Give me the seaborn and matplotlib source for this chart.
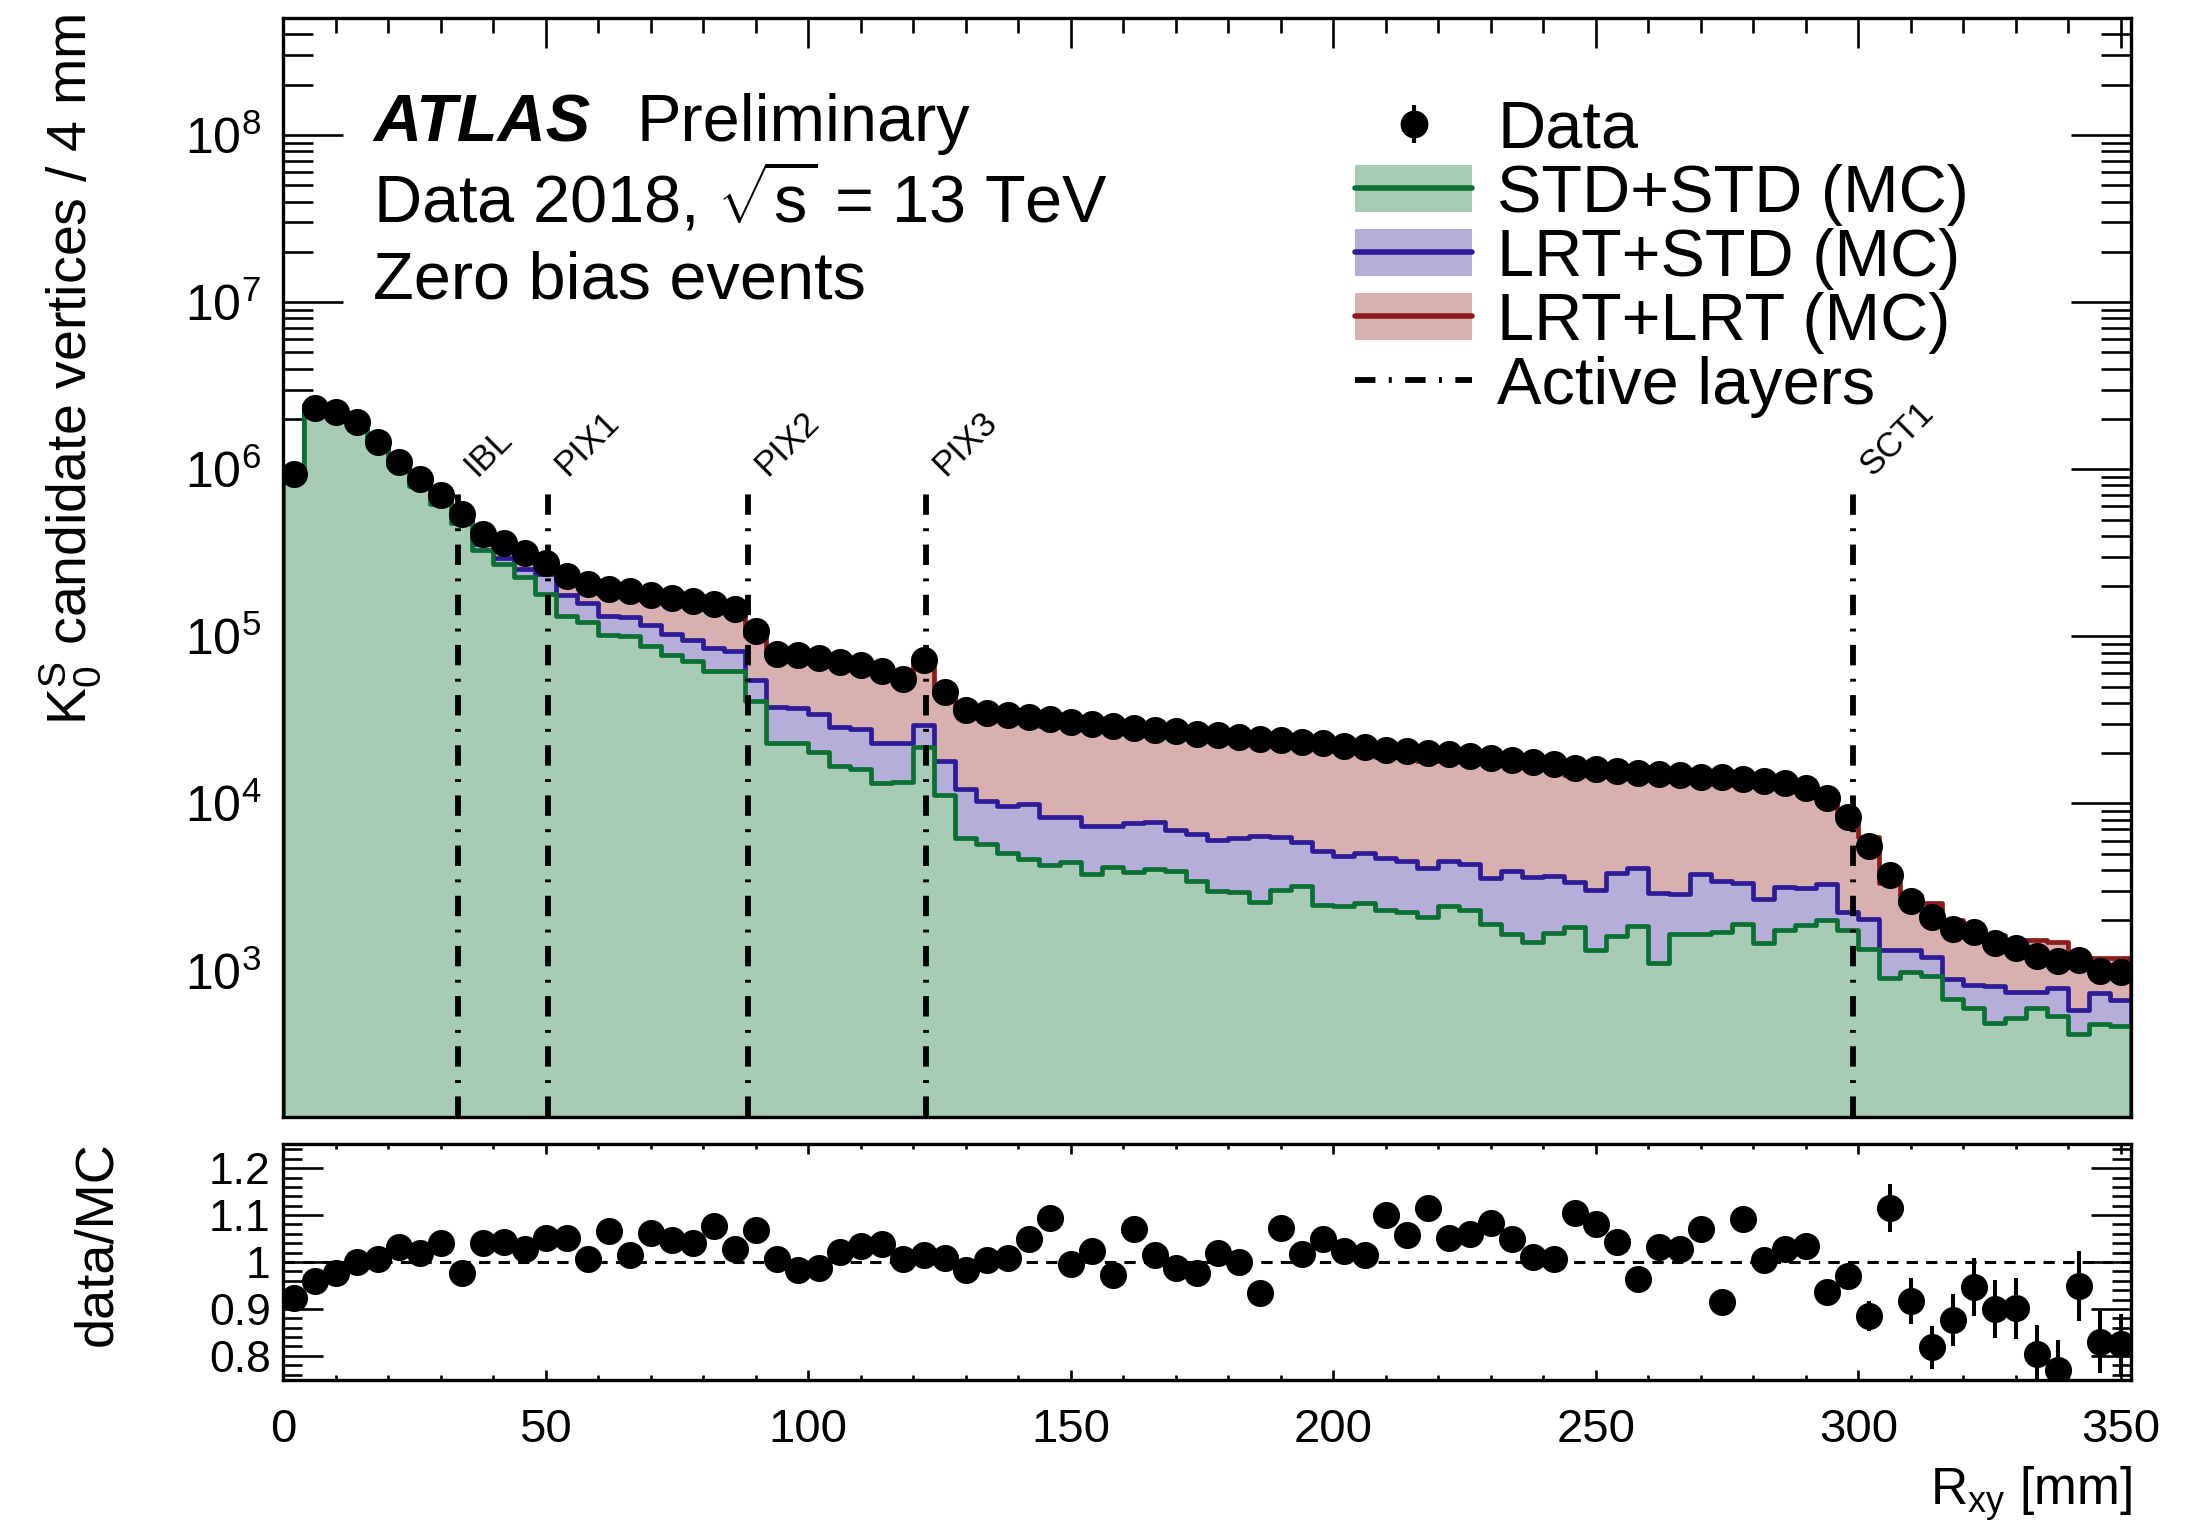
import numpy as np
import pandas as pd
import matplotlib
matplotlib.use("Agg")
import matplotlib.pyplot as plt
import seaborn as sns
from matplotlib.lines import Line2D
from matplotlib.patches import Patch
from matplotlib.ticker import (LogLocator, MultipleLocator, FixedLocator,
                               FixedFormatter, NullFormatter,
                               LogFormatterSciNotation)

# ---------------------------------------------------------------- data
bin_width = 4.0                                   # mm
r_min, r_max = 0.0, 352.0
bin_edges = np.arange(r_min, r_max + bin_width, bin_width)

# K0S candidate vertices per bin (data)
data_counts = np.array([
    9.40e5, 2.32e6, 2.20e6, 1.93e6, 1.46e6, 1.11e6, 8.70e5, 7.06e5, 5.42e5, 4.10e5,
    3.60e5, 3.15e5, 2.74e5, 2.30e5, 2.07e5, 1.92e5, 1.88e5, 1.76e5, 1.70e5, 1.63e5,
    1.56e5, 1.46e5, 1.08e5, 7.85e4, 7.71e4, 7.45e4, 7.06e4, 6.75e4, 6.19e4, 5.53e4,
    7.18e4, 4.63e4, 3.61e4, 3.49e4, 3.37e4, 3.28e4, 3.18e4, 3.08e4, 2.99e4, 2.91e4,
    2.84e4, 2.77e4, 2.70e4, 2.62e4, 2.56e4, 2.51e4, 2.43e4, 2.40e4, 2.34e4, 2.29e4,
    2.21e4, 2.17e4, 2.10e4, 2.06e4, 2.00e4, 1.98e4, 1.93e4, 1.88e4, 1.83e4, 1.78e4,
    1.72e4, 1.64e4, 1.60e4, 1.57e4, 1.53e4, 1.50e4, 1.47e4, 1.44e4, 1.43e4, 1.41e4,
    1.37e4, 1.32e4, 1.24e4, 1.08e4, 8.30e3, 5.56e3, 3.72e3, 2.59e3, 2.08e3, 1.77e3,
    1.70e3, 1.47e3, 1.36e3, 1.23e3, 1.14e3, 1.15e3, 9.90e2, 9.80e2,
])

# stacked MC: upper edge of the STD+STD layer
cum_std_std = np.array([
    1.00e6, 2.40e6, 2.24e6, 1.91e6, 1.43e6, 1.05e6, 7.94e5, 6.17e5, 4.80e5, 3.30e5,
    2.70e5, 2.26e5, 1.79e5, 1.33e5, 1.22e5, 1.02e5, 1.00e5, 8.77e4, 7.69e4, 7.11e4,
    6.22e4, 6.18e4, 4.10e4, 2.31e4, 2.31e4, 2.02e4, 1.68e4, 1.61e4, 1.32e4, 1.35e4,
    2.19e4, 1.12e4, 6.22e3, 5.74e3, 5.05e3, 4.67e3, 4.26e3, 4.48e3, 3.76e3, 4.17e3,
    3.90e3, 4.04e3, 3.94e3, 3.43e3, 3.01e3, 2.94e3, 2.58e3, 3.04e3, 3.22e3, 2.48e3,
    2.43e3, 2.52e3, 2.29e3, 2.23e3, 2.10e3, 2.45e3, 2.29e3, 1.89e3, 1.65e3, 1.49e3,
    1.68e3, 1.83e3, 1.32e3, 1.62e3, 1.84e3, 1.11e3, 1.66e3, 1.66e3, 1.70e3, 1.90e3,
    1.47e3, 1.75e3, 1.88e3, 2.00e3, 1.75e3, 1.34e3, 9.08e2, 9.80e2, 9.31e2, 6.73e2,
    5.93e2, 4.85e2, 5.22e2, 5.93e2, 5.36e2, 4.17e2, 4.80e2, 4.66e2,
])

# stacked MC: upper edge of the LRT+STD layer (STD+STD + LRT+STD)
cum_lrt_std = np.array([
    1.005e6, 2.41e6, 2.25e6, 1.92e6, 1.44e6, 1.06e6, 8.13e5, 6.38e5, 5.07e5, 3.56e5,
    2.94e5, 2.53e5, 2.37e5, 1.76e5, 1.59e5, 1.33e5, 1.31e5, 1.17e5, 1.04e5, 9.57e4,
    8.49e4, 8.22e4, 5.46e4, 3.79e4, 3.72e4, 3.44e4, 2.85e4, 2.80e4, 2.30e4, 2.31e4,
    2.93e4, 1.79e4, 1.22e4, 1.04e4, 9.71e3, 9.86e3, 8.24e3, 8.32e3, 7.35e3, 7.35e3,
    7.59e3, 7.73e3, 6.93e3, 6.53e3, 6.04e3, 6.19e3, 6.35e3, 6.27e3, 5.89e3, 5.18e3,
    4.84e3, 5.05e3, 4.72e3, 4.55e3, 4.10e3, 4.55e3, 4.33e3, 3.57e3, 3.96e3, 3.65e3,
    3.66e3, 3.39e3, 3.04e3, 3.85e3, 4.10e3, 2.93e3, 2.89e3, 3.77e3, 3.44e3, 3.36e3,
    2.68e3, 3.15e3, 3.11e3, 3.31e3, 2.25e3, 2.03e3, 1.32e3, 1.32e3, 1.20e3, 8.87e2,
    8.22e2, 8.09e2, 7.43e2, 7.43e2, 7.82e2, 5.78e2, 7.33e2, 6.62e2,
])

# data / MC ratio and its uncertainty
ratio = np.array([
    0.924, 0.960, 0.976, 1.000, 1.007, 1.033, 1.020, 1.040, 0.976, 1.041,
    1.042, 1.028, 1.052, 1.052, 1.007, 1.066, 1.016, 1.061, 1.047, 1.040,
    1.076, 1.028, 1.068, 1.007, 0.984, 0.988, 1.021, 1.034, 1.038, 1.007,
    1.014, 1.009, 0.983, 1.004, 1.008, 1.050, 1.094, 0.995, 1.023, 0.972,
    1.071, 1.014, 0.988, 0.977, 1.020, 1.000, 0.935, 1.073, 1.018, 1.048,
    1.023, 1.014, 1.101, 1.057, 1.115, 1.052, 1.059, 1.084, 1.050, 1.011,
    1.007, 1.104, 1.082, 1.042, 0.963, 1.033, 1.028, 1.071, 0.914, 1.092,
    1.004, 1.028, 1.034, 0.936, 0.970, 0.885, 1.115, 0.917, 0.818, 0.877,
    0.946, 0.900, 0.901, 0.804, 0.769, 0.949, 0.829, 0.825,
])
ratio_err = np.array([
    0.006, 0.006, 0.006, 0.006, 0.006, 0.006, 0.006, 0.006, 0.006, 0.006,
    0.006, 0.006, 0.006, 0.006, 0.006, 0.006, 0.006, 0.006, 0.006, 0.006,
    0.006, 0.006, 0.006, 0.006, 0.006, 0.006, 0.006, 0.006, 0.006, 0.006,
    0.006, 0.006, 0.006, 0.006, 0.006, 0.006, 0.006, 0.006, 0.006, 0.006,
    0.006, 0.006, 0.006, 0.006, 0.006, 0.006, 0.006, 0.006, 0.006, 0.006,
    0.008, 0.008, 0.008, 0.008, 0.008, 0.008, 0.008, 0.008, 0.008, 0.008,
    0.012, 0.018, 0.018, 0.015, 0.012, 0.015, 0.015, 0.026, 0.012, 0.027,
    0.027, 0.025, 0.028, 0.020, 0.027, 0.032, 0.052, 0.048, 0.045, 0.055,
    0.062, 0.061, 0.064, 0.062, 0.065, 0.074, 0.066, 0.064,
])

# active detector layers (radius in mm)
layer_names = ["IBL", "PIX1", "PIX2", "PIX3", "SCT1"]
layer_radius = [33.25, 50.5, 88.5, 122.5, 299.0]

sample_labels = ["Data", "STD+STD (MC)", "LRT+STD (MC)", "LRT+LRT (MC)", "Active layers"]

# ---------------------------------------------------------------- style
green_fill, green_line = "#a8cbb5", "#0b7033"
blue_fill, blue_line = "#b5aed8", "#2e1c96"
red_fill, red_line = "#d8b0b0", "#8c1c1c"
dashdot = (0, (3.5, 2.3, 0.5, 2.3))

sns.set_theme(style="ticks")
plt.rcParams.update({
    "font.family": ["Liberation Sans", "DejaVu Sans"],
    "mathtext.fontset": "custom",
    "mathtext.rm": "Liberation Sans",
    "mathtext.it": "Liberation Sans:italic",
    "mathtext.bf": "Liberation Sans:bold",
    "mathtext.default": "regular",
    "axes.linewidth": 2.4,
    "axes.edgecolor": "black",
    "xtick.color": "black",
    "ytick.color": "black",
    "text.color": "black",
    "axes.labelcolor": "black",
})

fig = plt.figure(figsize=(22.09, 15.24), dpi=100)
ax = fig.add_axes([0.1282, 0.2671, 0.8367, 0.7209])
axr = fig.add_axes([0.1282, 0.0943, 0.8367, 0.1552], sharex=ax)
ax.set_yscale("log")

centers = bin_edges[:-1] + bin_width / 2
mc_total = data_counts / ratio

stack = pd.DataFrame({
    "r": centers,
    "total": mc_total,
    "lrt_std": cum_lrt_std,
    "std_std": cum_std_std,
})

# stacked MC drawn from the top layer down
for col, fc, lc in [("total", red_fill, red_line),
                    ("lrt_std", blue_fill, blue_line),
                    ("std_std", green_fill, green_line)]:
    sns.histplot(data=stack, x="r", weights=col, binwidth=bin_width,
                 binrange=(r_min, r_max), element="step", fill=True,
                 color=fc, edgecolor=lc, linewidth=3.4, alpha=1,
                 ax=ax, zorder=1)

y_lo, y_hi = 133, 5.0e8
layer_top = 8.05e5
ax.vlines(layer_radius, y_lo * 0.5, layer_top, colors="black",
          linestyles=[dashdot], linewidth=4.2, zorder=3)
for name, r in zip(layer_names, layer_radius):
    ax.text(r + 3.6, 9.0e5, name, rotation=45, rotation_mode="anchor",
            ha="left", va="baseline", fontsize=25, zorder=6)

sns.scatterplot(x=centers, y=data_counts, color="black", s=380, linewidth=0,
                ax=ax, zorder=5, legend=False)

ax.set_xlim(r_min, r_max)
ax.set_ylim(y_lo, y_hi)
ax.set_xlabel("")
ax.set_ylabel("")
ax.yaxis.set_major_locator(LogLocator(base=10, numticks=20))
ax.yaxis.set_minor_locator(LogLocator(base=10, subs=np.arange(2, 10), numticks=20))
ax.yaxis.set_major_formatter(LogFormatterSciNotation())
ax.yaxis.set_minor_formatter(NullFormatter())
ax.xaxis.set_major_locator(MultipleLocator(50))
ax.xaxis.set_minor_locator(MultipleLocator(10))
ax.tick_params(axis="both", which="both", direction="in", top=True, right=True,
               labelbottom=False, width=1.9)
ax.tick_params(axis="x", which="major", length=21.6)
ax.tick_params(axis="x", which="minor", length=10.8)
ax.tick_params(axis="y", which="major", length=43, labelsize=36, pad=16)
ax.tick_params(axis="y", which="minor", length=21.6)

# header text
ax.text(0.0488, 0.888, "ATLAS", transform=ax.transAxes, fontsize=48,
        fontweight="bold", fontstyle="italic", va="baseline")
ax.text(0.191, 0.888, "Preliminary", transform=ax.transAxes, fontsize=48,
        va="baseline")
ax.text(0.0488, 0.815, r"Data 2018, $\sqrt{s}$ = 13 TeV", transform=ax.transAxes,
        fontsize=48, va="baseline")
ax.text(0.0488, 0.745, "Zero bias events", transform=ax.transAxes, fontsize=48,
        va="baseline")

# legend
h_data = (Line2D([], [], marker="|", ms=27, mew=3, color="black", ls="none"),
          Line2D([], [], marker="o", ms=19, color="black", ls="none"))
h_std = (Patch(facecolor=green_fill, edgecolor="none"),
         Line2D([], [], color=green_line, lw=4))
h_lrtstd = (Patch(facecolor=blue_fill, edgecolor="none"),
            Line2D([], [], color=blue_line, lw=4))
h_lrtlrt = (Patch(facecolor=red_fill, edgecolor="none"),
            Line2D([], [], color=red_line, lw=4))
h_layer = Line2D([], [], color="black", ls=dashdot, lw=4.2)
ax.legend([h_data, h_std, h_lrtstd, h_lrtlrt, h_layer], sample_labels,
          loc="upper left", bbox_to_anchor=(0.580, 0.926), frameon=False,
          fontsize=48, handlelength=1.75, handleheight=0.7, handletextpad=0.38,
          labelspacing=0.03, borderpad=0, borderaxespad=0)

# ---------------------------------------------------------------- ratio
axr.axhline(1.0, color="black", lw=2.2, ls=(0, (3.7, 2.7)), zorder=2)
axr.errorbar(centers, ratio, yerr=ratio_err, fmt="none", ecolor="black",
             elinewidth=2.9, capsize=0, zorder=4)
sns.scatterplot(x=centers, y=ratio, color="black", s=380, linewidth=0,
                ax=axr, zorder=5, legend=False)
axr.set_xlim(r_min, r_max)
axr.set_ylim(0.748, 1.252)
axr.set_xlabel("")
axr.set_ylabel("")
axr.yaxis.set_major_locator(FixedLocator([0.8, 0.9, 1.0, 1.1, 1.2]))
axr.yaxis.set_major_formatter(FixedFormatter(["0.8", "0.9", "1", "1.1", "1.2"]))
axr.yaxis.set_minor_locator(MultipleLocator(0.02))
axr.tick_params(axis="both", which="both", direction="in", top=True, right=True,
                width=1.9, labelbottom=True)
axr.tick_params(axis="x", which="major", length=7, labelsize=34, pad=20)
axr.tick_params(axis="x", which="minor", length=3.5)
axr.tick_params(axis="y", which="major", length=29, labelsize=32, pad=9)
axr.tick_params(axis="y", which="minor", length=14)

# axis titles
fig.text(0.965, 0.0129, r"$R_{xy}$ [mm]", ha="right", va="baseline", fontsize=37)
fig.text(0.032, 0.991, r"$K^{S}_{0}$ candidate vertices / 4 mm", rotation=90,
         ha="center", va="top", fontsize=40)
fig.text(0.044, 0.184, "data/MC", rotation=90, ha="center", va="center",
         fontsize=39)

fig.savefig("out.png", dpi=100)
